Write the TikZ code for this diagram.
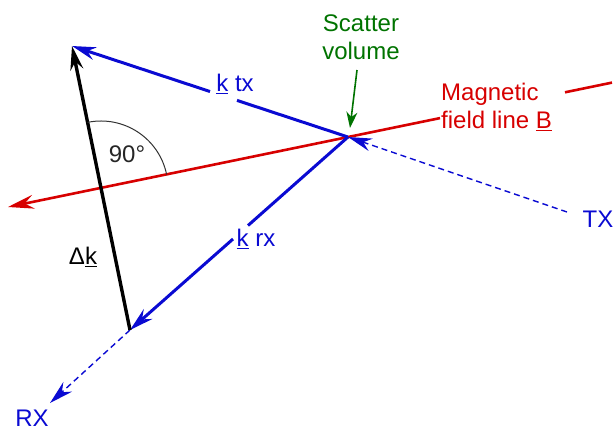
\documentclass[tikz,border=0pt]{standalone}
\usepackage{fontspec}
\setmainfont{Liberation Sans}
\usetikzlibrary{arrows.meta}
\definecolor{vblue}{RGB}{10,10,210}
\definecolor{vred}{RGB}{215,0,0}
\definecolor{vgreen}{RGB}{0,115,0}
\begin{document}
\begin{tikzpicture}[x=1pt,y=-1pt,
  lbl/.style={font=\fontsize{24}{28}\selectfont, inner sep=0pt},
  bigtip/.style={-{Stealth[length=24pt,width=13pt,inset=8pt]}},
  thickline/.style={line width=3pt},
  dashline/.style={line width=1.4pt, dash pattern=on 6pt off 4pt},
]
\useasboundingbox (0,0) rectangle (615,432);
% key points
\coordinate (S) at (348,137);
\coordinate (A) at (72,46);
\coordinate (P) at (130,330);
\coordinate (I) at (101,188);
% magnetic field line
\coordinate (Rr) at (612,82.6);
\coordinate (Rg1) at (565,92.3);
\coordinate (Rg2) at (440,118.1);
\coordinate (Rl) at (8,207);
\draw[vred, line width=2.6pt] (Rr) -- (Rg1);
\draw[vred, line width=2.6pt, -{Stealth[length=26pt,width=14pt,inset=9pt]}] (Rg2) -- (Rl);
% TX dashed
\coordinate (T) at (567,212);
\draw[vblue, dashline, bigtip] (T) -- (S);
% k_tx
\coordinate (Kt1) at (237,100.4);
\coordinate (Kt2) at (210,91.5);
\draw[vblue, thickline] (S) -- (Kt1);
\draw[vblue, thickline, bigtip] (Kt2) -- (A);
% k_rx
\coordinate (Kr1) at (248,225.5);
\coordinate (Kr2) at (233,239);
\draw[vblue, thickline] (S) -- (Kr1);
\draw[vblue, thickline, bigtip] (Kr2) -- (P);
% RX dashed
\coordinate (R) at (50,403);
\draw[vblue, dashline, bigtip] (P) -- (R);
% delta k
\draw[black, line width=3.4pt, bigtip] (P) -- (A);
% right angle arc
\draw[black!80, line width=1pt] (I) ++(101.5:67pt) arc[start angle=101.5, end angle=11.6, radius=67pt];
% scatter arrow
\coordinate (G1) at (357,70);
\coordinate (G2) at (350,128);
\draw[vgreen, line width=1.6pt, -{Stealth[length=16pt,width=11pt,inset=5pt]}] (G1) -- (G2);
% labels
\node[lbl, vgreen, align=center] (scat) at (361,37) {Scatter\\volume};
\node[lbl, vred, align=left, anchor=north west] (mag) at (441,83) {Magnetic\\field line \underline{B}};
\node[lbl, vblue] (ktx) at (235,84) {\underline{k} tx};
\node[lbl, vblue] (krx) at (256,239) {\underline{k} rx};
\node[lbl, black] (dk) at (83,257) {Δ\underline{k}};
\node[lbl, black!85] (ang) at (127,154) {90°};
\node[lbl, vblue] (tx) at (598,219) {TX};
\node[lbl, vblue] (rx) at (32,418) {RX};
\end{tikzpicture}
\end{document}
